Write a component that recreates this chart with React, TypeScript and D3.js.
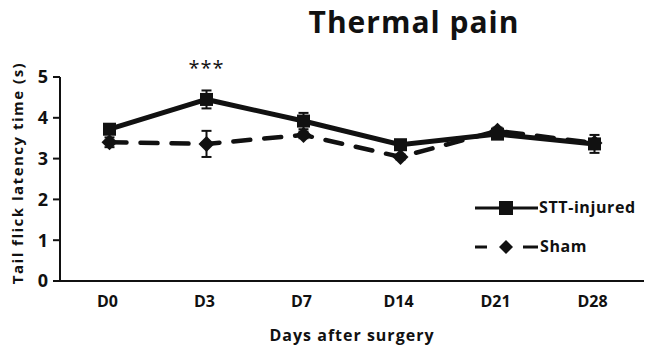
import React from "react";
import * as d3 from "d3";

const categories = ["D0", "D3", "D7", "D14", "D21", "D28"];
const sttValues = [3.72, 4.45, 3.92, 3.34, 3.6, 3.36];
const sttErrors = [0.08, 0.22, 0.2, 0.08, 0.08, 0.22];
const shamValues = [3.4, 3.36, 3.58, 3.04, 3.68, 3.38];
const shamErrors = [0.12, 0.32, 0.08, 0.06, 0.08, 0.1];
const yTicks = [0, 1, 2, 3, 4, 5];

const W = 646;
const H = 345;
const FONT = "'Open Sans', 'DejaVu Sans', sans-serif";

export default function App() {
  const x = d3.scalePoint<string>().domain(categories).range([61, 643]).padding(0.5);
  const y = d3.scaleLinear().domain([0, 5]).range([281, 77]);

  const stt = categories.map((c, i) => ({ c, v: sttValues[i], e: sttErrors[i] }));
  const sham = categories.map((c, i) => ({ c, v: shamValues[i], e: shamErrors[i] }));
  const line = d3
    .line<{ c: string; v: number }>()
    .x((d) => x(d.c) as number)
    .y((d) => y(d.v));

  const sq = 13;
  const diamond = (cx: number, cy: number, r: number) =>
    `M${cx},${cy - r}L${cx + r},${cy}L${cx},${cy + r}L${cx - r},${cy}Z`;

  const errBar = (d: { c: string; v: number; e: number }, key: string) => {
    const cx = x(d.c) as number;
    return (
      <g key={key} stroke="#111" strokeWidth={2}>
        <line x1={cx} x2={cx} y1={y(d.v + d.e)} y2={y(d.v - d.e)} />
        <line x1={cx - 5} x2={cx + 5} y1={y(d.v + d.e)} y2={y(d.v + d.e)} />
        <line x1={cx - 5} x2={cx + 5} y1={y(d.v - d.e)} y2={y(d.v - d.e)} />
      </g>
    );
  };

  return (
    <svg width={W} height={H} style={{ position: "absolute", left: 0, top: 0, background: "#fff" }}>
      <text x={414} y={33} textAnchor="middle" fontFamily={FONT} fontWeight={700} fontSize={30} letterSpacing={1} fill="#111">
        Thermal pain
      </text>

      {/* axes */}
      <line x1={60} x2={60} y1={y(5)} y2={y(0) + 1} stroke="#111" strokeWidth={2} />
      <line x1={59} x2={644} y1={y(0)} y2={y(0)} stroke="#111" strokeWidth={2} />
      {yTicks.map((t) => (
        <g key={t}>
          <line x1={53} x2={60} y1={y(t)} y2={y(t)} stroke="#111" strokeWidth={2} />
          <text x={48} y={y(t)} dy="0.36em" textAnchor="end" fontFamily={FONT} fontSize={18} fontWeight={700} fill="#111">
            {t}
          </text>
        </g>
      ))}
      {categories.map((c) => (
        <text key={c} x={(x(c) as number) - 2} y={307} textAnchor="middle" fontFamily={FONT} fontSize={16} fontWeight={700} fill="#111">
          {c}
        </text>
      ))}
      <text x={352} y={341} textAnchor="middle" fontFamily={FONT} fontSize={16} fontWeight={700} letterSpacing={1} fill="#111">
        Days after surgery
      </text>
      <text
        transform={`translate(23,173) rotate(-90)`}
        textAnchor="middle"
        fontFamily={FONT}
        fontSize={15}
        fontWeight={700}
        letterSpacing={1.5}
        fill="#111"
      >
        Tail flick latency time (s)
      </text>

      {/* error bars */}
      {stt.map((d, i) => errBar(d, "se" + i))}
      {sham.map((d, i) => errBar(d, "he" + i))}

      {/* sham dashed */}
      <path d={line(sham) || ""} fill="none" stroke="#111" strokeWidth={4.5} strokeDasharray="17,14" strokeLinecap="round" />
      {sham.map((d, i) => (
        <path key={"hd" + i} d={diamond(x(d.c) as number, y(d.v), 8)} fill="#111" />
      ))}

      {/* stt solid */}
      <path d={line(stt) || ""} fill="none" stroke="#111" strokeWidth={5} />
      {stt.map((d, i) => (
        <rect key={"sr" + i} x={(x(d.c) as number) - sq / 2} y={y(d.v) - sq / 2} width={sq} height={sq} fill="#111" />
      ))}

      <text x={x("D3") as number} y={75} textAnchor="middle" fontFamily={FONT} fontSize={20} letterSpacing={1} fill="#111">
        ***
      </text>

      {/* legend */}
      <line x1={475} x2={538} y1={208} y2={208} stroke="#111" strokeWidth={3} />
      <rect x={506 - 7} y={208 - 7} width={14} height={14} fill="#111" />
      <text x={539} y={213} fontFamily={FONT} fontSize={16} fontWeight={700} letterSpacing={0.6} fill="#111">
        STT-injured
      </text>
      <line x1={475} x2={487} y1={247} y2={247} stroke="#111" strokeWidth={3} />
      <line x1={523} x2={538} y1={247} y2={247} stroke="#111" strokeWidth={3} />
      <path d={diamond(506, 247, 7)} fill="#111" />
      <text x={540} y={252} fontFamily={FONT} fontSize={16} fontWeight={700} letterSpacing={0.6} fill="#111">
        Sham
      </text>
    </svg>
  );
}
